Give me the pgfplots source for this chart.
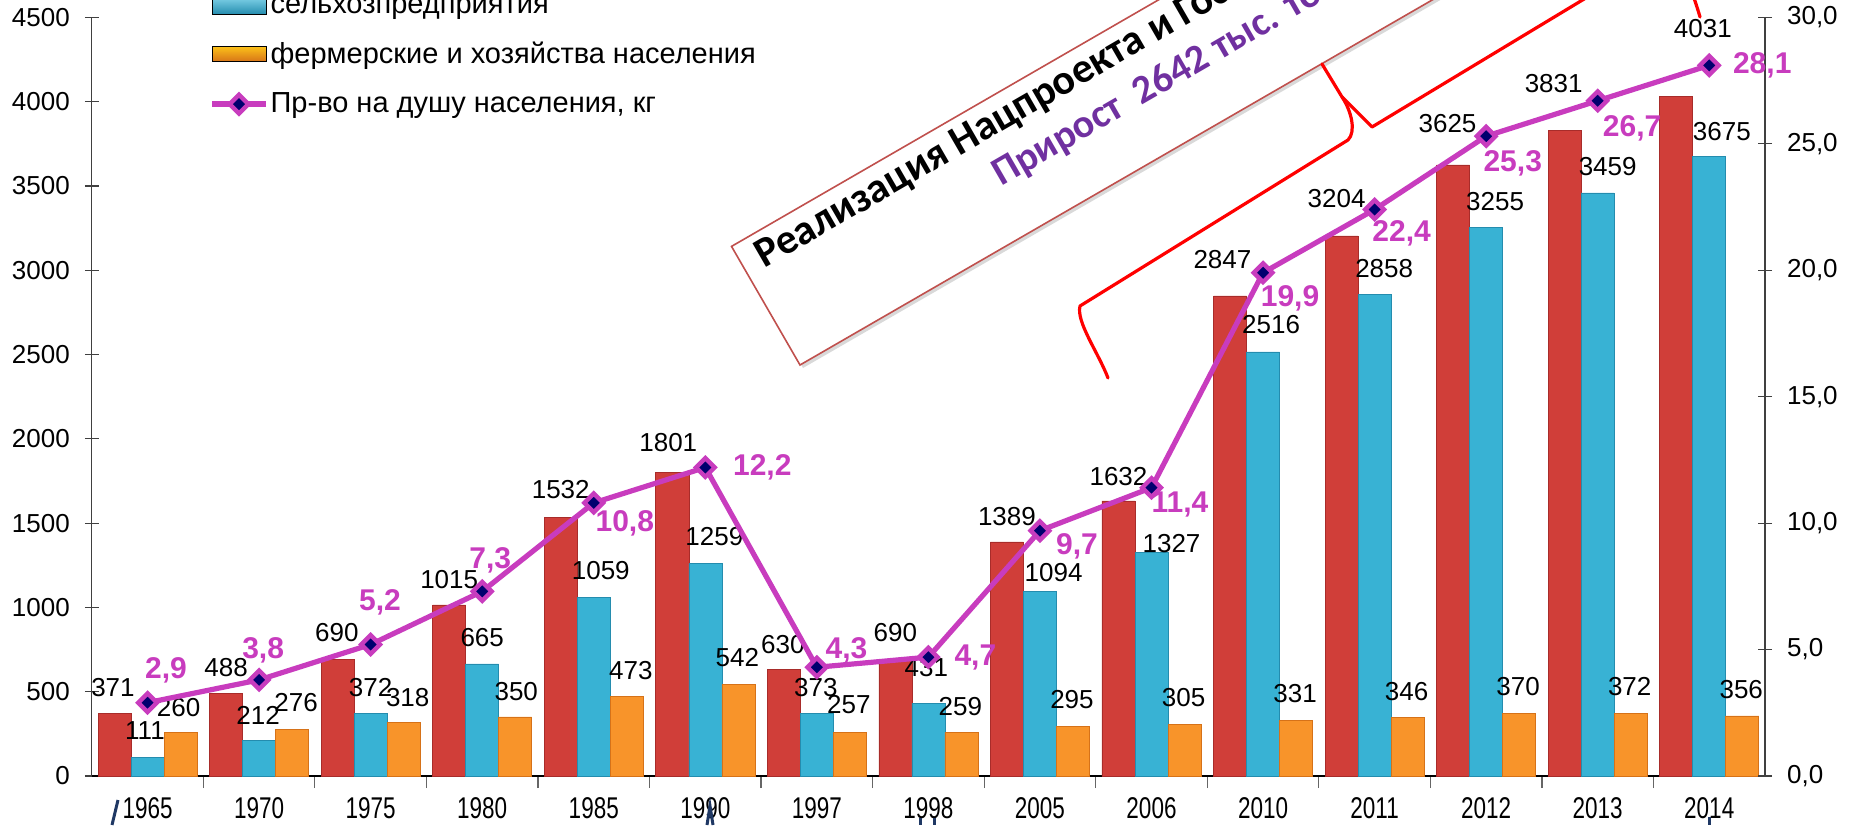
\documentclass[border=0pt]{standalone}
\usepackage{fontspec}
\setmainfont{Liberation Sans}
\newfontfamily\carlito{Carlito}
\usepackage{pgfplots}
\usepackage{pgfplotstable}
\pgfplotsset{compat=1.18}
\usetikzlibrary{shadows}

\definecolor{redA}{RGB}{208,62,57}
\definecolor{redB}{RGB}{168,44,42}
\definecolor{cyA}{RGB}{56,178,212}
\definecolor{cyB}{RGB}{36,140,174}
\definecolor{orA}{RGB}{248,148,42}
\definecolor{orB}{RGB}{214,114,24}
\definecolor{mag}{RGB}{200,60,190}
\definecolor{navyd}{RGB}{0,0,110}
\definecolor{purp}{RGB}{112,48,160}
\definecolor{boxborder}{RGB}{192,80,77}
\definecolor{darkblue}{RGB}{31,56,100}

\pgfplotsset{
  myline legend/.style={legend image code/.code={\draw[mark repeat=2,mark phase=2,##1] plot coordinates {(0pt,0pt) (13.5pt,0pt) (27pt,0pt)};}},
}

\pgfplotstableread{
x red rdx rdy cyan cdx cdy orange odx ody
0 371 -0.8 13.2 111 -1.3 13.5 260 -1 12.5
1 488 0 12.9 212 -0.5 12.5 276 2 13.3
2 690 -0.4 13.4 372 0 13 318 2 12.2
3 1015 0 12.5 665 0 13 350 0.5 12.5
4 1532 0 13.9 1059 3.5 13.3 473 2 13
5 1801 -2 15 1259 4.5 13.5 542 -0.5 13.3
6 630 -0.5 12.5 373 -0.5 13 257 -0.5 13.9
7 690 0 13.5 431 -1 18 259 -0.5 13
8 1389 0 12.5 1094 6.8 9.3 295 -0.5 13.3
9 1632 0 12 1327 10 4.5 305 -0.5 13.3
10 2847 -3.8 18 2516 4 13.5 331 -0.5 13.3
11 3204 -2.5 18.5 2858 4.8 13 346 -0.5 13.3
12 3625 -2.8 20.8 3255 4.5 12.8 370 -0.5 13.3
13 3831 -5.5 23.5 3459 5 13 372 -0.5 13.3
14 4031 13.3 34 3675 6.3 12.4 356 -0.5 13.3
}\tabbars

\pgfplotstableread{
x y dx dy
0 2.9 9.2 16.4
1 3.8 2 15
2 5.2 4.7 21.3
3 7.3 4 15.7
4 10.8 15.5 -10
5 12.2 28.5 0
6 4.3 14.8 8.5
7 4.7 23.5 0
8 9.7 18.5 -8
9 11.4 14.2 -8.5
10 19.9 13.5 -12.8
11 22.4 13.5 -12
12 25.3 13.3 -13.5
13 26.7 17.2 -13.8
14 28.1 26.5 0
}\tabline

\begin{document}
\begin{tikzpicture}
\begin{axis}[
  scale only axis, width=836.6pt, height=379.35pt,
  at={(45.9pt,24.5pt)}, anchor=south west,
  xmin=-0.5, xmax=14.5, ymin=0, ymax=4500,
  axis x line*=bottom, axis y line*=left,
  x axis line style={-, black, line width=1.3pt},
  y axis line style={-, black!75, line width=0.6pt},
  ytick={0,500,...,4500},
  ytick align=center, major tick length=7pt,
  y tick style={black!75, line width=0.6pt},
  yticklabel style={font=\fontsize{13}{13}\selectfont, xshift=-4pt},
  xtick={0,...,14},
  xticklabels={1965,1970,1975,1980,1985,1990,1997,1998,2005,2006,2010,2011,2012,2013,2014},
  minor x tick num=1,
  xtick align=outside, minor tick length=6pt,
  major x tick style={draw=none},
  minor x tick style={black!60, line width=0.6pt},
  xticklabel style={font=\fontsize{15}{15}\selectfont, xscale=0.75, anchor=center, yshift=-9.25pt},
  ybar=0pt, bar width=0.296,
  /pgf/number format/1000 sep={},
  /pgf/number format/assume math mode=true,
  clip=false,
]
\addplot[fill=redA, draw=redB, line width=0.3pt,
  nodes near coords, point meta=y,
  visualization depends on={\thisrow{rdx}\as\mydx},
  visualization depends on={\thisrow{rdy}\as\mydy},
  every node near coord/.append style={anchor=center, xshift=\mydx, yshift=\mydy, font=\fontsize{13}{13}\selectfont, text=black}]
  table[x=x, y=red] {\tabbars};
\addplot[fill=cyA, draw=cyB, line width=0.3pt,
  nodes near coords, point meta=y,
  visualization depends on={\thisrow{cdx}\as\mydx},
  visualization depends on={\thisrow{cdy}\as\mydy},
  every node near coord/.append style={anchor=center, xshift=\mydx, yshift=\mydy, font=\fontsize{13}{13}\selectfont, text=black}]
  table[x=x, y=cyan] {\tabbars};
\addplot[fill=orA, draw=orB, line width=0.3pt,
  nodes near coords, point meta=y,
  visualization depends on={\thisrow{odx}\as\mydx},
  visualization depends on={\thisrow{ody}\as\mydy},
  every node near coord/.append style={anchor=center, xshift=\mydx, yshift=\mydy, font=\fontsize{13}{13}\selectfont, text=black}]
  table[x=x, y=orange] {\tabbars};
\end{axis}

\begin{axis}[
  scale only axis, width=836.6pt, height=379.35pt,
  at={(45.9pt,24.5pt)}, anchor=south west,
  xmin=-0.5, xmax=14.5, ymin=0, ymax=30,
  axis y line*=right, axis x line=none,
  y axis line style={-, black!75, line width=0.6pt},
  ytick={0,5,...,30},
  ytick align=center, major tick length=7pt,
  y tick style={black!75, line width=0.6pt},
  yticklabel style={font=\fontsize{13}{13}\selectfont, xshift=4pt},
  /pgf/number format/fixed,
  /pgf/number format/fixed zerofill,
  /pgf/number format/precision=1,
  /pgf/number format/use comma,
  /pgf/number format/assume math mode=true,
  clip=false,
  legend style={at={(0.0703,1.0927)}, anchor=north west, draw=none, fill=none,
    inner sep=0pt, outer sep=0pt, row sep=13pt, column sep=1pt,
    font=\fontsize{14.5}{14.5}\selectfont, nodes={inner sep=0pt}},
  legend cell align=left,
]
\addlegendimage{legend image code/.code={\fill[top color=redA!70!white, bottom color=redB] (0pt,-3.75pt) rectangle (27pt,3.75pt);}}
\addlegendentry{хозяйства всех категорий}
\addlegendimage{legend image code/.code={\fill[top color=cyA!70!white, bottom color=cyB] (0pt,-3.75pt) rectangle (27pt,3.75pt);}}
\addlegendentry{сельхозпредприятия}
\addlegendimage{legend image code/.code={\fill[top color=orA!60!yellow, bottom color=orB] (0pt,-3.75pt) rectangle (27pt,3.75pt);}}
\addlegendentry{фермерские и хозяйства населения}
\addplot[mag, line width=2.6pt, mark=square*, mark size=3.3pt,
  mark options={rotate=45, fill=navyd, draw=mag, line width=2.2pt, solid},
  myline legend,
  nodes near coords, point meta=y,
  visualization depends on={\thisrow{dx}\as\mydx},
  visualization depends on={\thisrow{dy}\as\mydy},
  every node near coord/.append style={anchor=center, xshift=\mydx, yshift=\mydy, font=\fontsize{15}{15}\bfseries\selectfont, text=mag}]
  table[x=x, y=y] {\tabline};
\addlegendentry{Пр-во на душу населения, кг}
\end{axis}

\begin{scope}[shift={(0pt,412.5pt)}, x=0.5pt, y=-0.5pt]
  \filldraw[fill=white, draw=boxborder, line width=0.8pt,
    drop shadow={shadow xshift=1.5pt, shadow yshift=-1.5pt, opacity=0.15, fill=black}]
    (800,365) -- (1752.6,-185) -- (1684.1,-303.6) -- (731.5,246.4) -- cycle;
  \node[rotate=30, anchor=base west, inner sep=0pt, font=\carlito\bfseries\fontsize{21}{21}\selectfont] at (764,269) {Реализация Нацпроекта и Госпрограммы};
  \node[rotate=30, anchor=base west, inner sep=0pt, text=purp, font=\carlito\bfseries\fontsize{20}{20}\selectfont] at (1001,187) {Прирост\ \ 2642 тыс. тонн};
  \draw[red, line width=1.6pt, line cap=round, line join=round]
    (1108,378) .. controls (1098,352) and (1076,322) .. (1080,306)
    -- (1348,140) .. controls (1356,132) and (1352,112) .. (1342,97) -- (1322,64);
  \draw[red, line width=1.6pt, line cap=round, line join=round]
    (1342,97) -- (1372,127) -- (1672,-54) .. controls (1685,-30) and (1695,0) .. (1700,17);
  \draw[darkblue, line width=1.5pt] (118,800) -- (112,825);
  \draw[darkblue, line width=1.5pt] (707,825) -- (710,806) -- (713,825);
  \draw[darkblue, line width=1.5pt] (920,818) -- (920,825);
  \draw[darkblue, line width=1.5pt] (934,818) -- (934,825);
  \draw[darkblue, line width=1.5pt] (1709,817) -- (1709,825);
\end{scope}

\pgfresetboundingbox
\path[use as bounding box] (0,0) rectangle (925.5pt,412.5pt);
\end{tikzpicture}
\end{document}
